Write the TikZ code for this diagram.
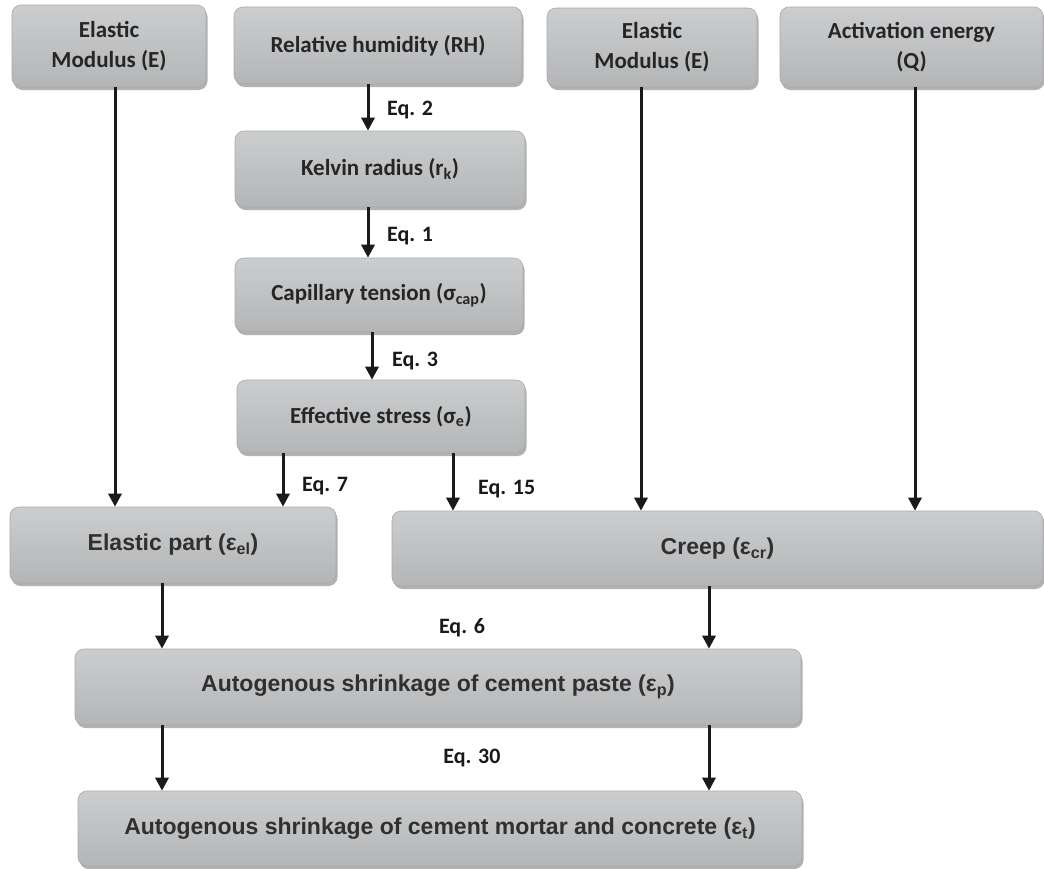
\documentclass[tikz,border=0pt]{standalone}
\usepackage{fontspec}
\setmainfont{Carlito}
\newfontfamily\arialf{Liberation Sans}
\usetikzlibrary{shadows,arrows.meta}
\definecolor{boxtop}{HTML}{CCCDCF}
\definecolor{boxbot}{HTML}{B4B5B7}
\definecolor{boxline}{HTML}{A8A9AB}
\definecolor{txt}{HTML}{262626}
\definecolor{txtb}{HTML}{303030}
\definecolor{arrc}{HTML}{1A1A1A}
\tikzset{
  box/.style={rectangle, rounded corners=9pt, top color=boxtop, bottom color=boxbot,
    draw=boxline, line width=0.6pt,
    drop shadow={shadow xshift=1.5pt, shadow yshift=-3pt, opacity=0.3, fill=black},
    text=txt, font=\bfseries\fontsize{23}{30}\selectfont, align=center, inner sep=0pt},
  lbox/.style={box, font=\arialf\bfseries\fontsize{23}{28}\selectfont, text=txtb},
  arr/.style={-{Triangle[length=13pt,width=13pt]}, line width=3pt, draw=arrc},
  eq/.style={font=\bfseries\fontsize{22}{24}\selectfont, text=arrc, inner sep=0pt},
}
\begin{document}
\begin{tikzpicture}[x=1pt,y=-1pt]
\useasboundingbox (0,0) rectangle (1044,868);
% top row
\node[box, minimum width=194pt, minimum height=82pt] (em1) at (109,46) {Elastic\\Modulus (E)};
\node[box, minimum width=288pt, minimum height=77pt] (rh) at (378,45.5) {Relative humidity (RH)};
\node[box, minimum width=210pt, minimum height=79pt] (em2) at (652,47.5) {Elastic\\Modulus (E)};
\node[box, minimum width=263pt, minimum height=80pt] (act) at (911.5,47) {Activation energy\\(Q)};
% middle column
\node[box, minimum width=290pt, minimum height=76pt] (kel) at (380,169) {Kelvin radius (r\textsubscript{k})};
\node[box, minimum width=288pt, minimum height=74pt] (cap) at (379,295) {Capillary tension (σ\textsubscript{cap})};
\node[box, minimum width=288pt, minimum height=73pt] (eff) at (381,416.5) {Effective stress (σ\textsubscript{e})};
% lower boxes
\node[lbox, minimum width=326pt, minimum height=76pt] (ela) at (173,545) {Elastic part (ε\textsubscript{el})};
\node[lbox, minimum width=651pt, minimum height=75pt] (creep) at (717.5,548.5) {Creep (ε\textsubscript{cr})};
\node[lbox, minimum width=726pt, minimum height=76pt] (paste) at (438,687) {Autogenous shrinkage of cement paste (ε\textsubscript{p})};
\node[lbox, minimum width=724pt, minimum height=75pt] (mort) at (440,828.5) {Autogenous shrinkage of cement mortar and concrete (ε\textsubscript{t})};
% column coordinates
\coordinate (c115) at (115,0);
\coordinate (c368) at (368,0);
\coordinate (c372) at (372,0);
\coordinate (c283) at (283,0);
\coordinate (c453) at (453,0);
\coordinate (c641) at (641,0);
\coordinate (c915) at (915,0);
\coordinate (c162) at (162,0);
\coordinate (c709) at (709,0);
% connectors
\draw[arr] (rh.south -| c368) -- (kel.north -| c368);
\draw[arr] (kel.south -| c368) -- (cap.north -| c368);
\draw[arr] (cap.south -| c372) -- (eff.north -| c372);
\draw[arr] (em1.south -| c115) -- (ela.north -| c115);
\draw[arr] (eff.south -| c283) -- (ela.north -| c283);
\draw[arr] (eff.south -| c453) -- (creep.north -| c453);
\draw[arr] (em2.south -| c641) -- (creep.north -| c641);
\draw[arr] (act.south -| c915) -- (creep.north -| c915);
\draw[arr] (ela.south -| c162) -- (paste.north -| c162);
\draw[arr] (creep.south -| c709) -- (paste.north -| c709);
\draw[arr] (paste.south -| c162) -- (mort.north -| c162);
\draw[arr] (paste.south -| c709) -- (mort.north -| c709);
% equation labels
\node[eq, anchor=west] (eq2) at (387,110) {Eq. 2};
\node[eq, anchor=west] (eq1) at (387,236) {Eq. 1};
\node[eq, anchor=west] (eq3) at (392,361) {Eq. 3};
\node[eq, anchor=west] (eq7) at (302,486) {Eq. 7};
\node[eq, anchor=west] (eq15) at (478,489) {Eq. 15};
\node[eq] (eq6) at (462,628) {Eq. 6};
\node[eq] (eq30) at (472,758) {Eq. 30};
\end{tikzpicture}
\end{document}
